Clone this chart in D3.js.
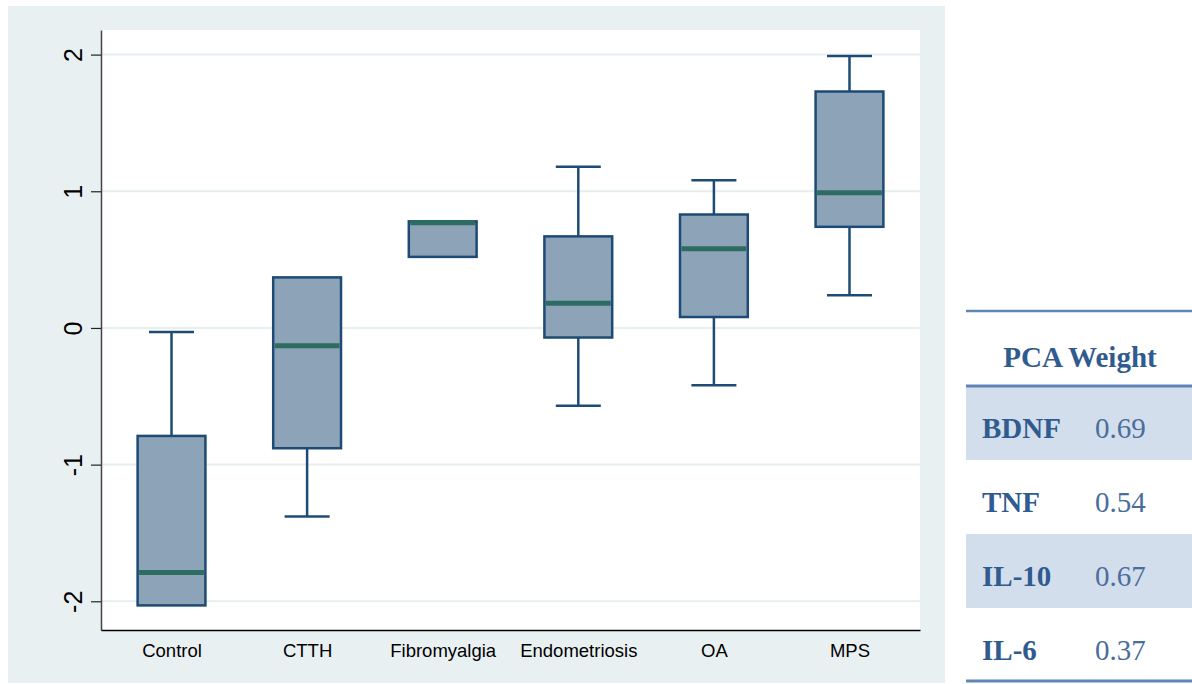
<!DOCTYPE html>
<html>
<head>
<meta charset="utf-8">
<script src="https://cdn.jsdelivr.net/npm/d3@7"></script>
<style>
  html, body { margin: 0; padding: 0; background: #ffffff; }
  svg { display: block; }
</style>
</head>
<body>
<svg id="chart" width="1192" height="684"></svg>
<script>
// Box plot summary per group: whisker low, Q1, median, Q3, whisker high
const categories = ["Control", "CTTH", "Fibromyalgia", "Endometriosis", "OA", "MPS"];
const whiskerLow  = [-2.03, -1.38, 0.52, -0.57, -0.42, 0.24];
const q1          = [-2.03, -0.88, 0.52, -0.07, 0.08, 0.74];
const median      = [-1.79, -0.13, 0.77, 0.18, 0.58, 0.99];
const q3          = [-0.79, 0.37, 0.78, 0.67, 0.83, 1.73];
const whiskerHigh = [-0.03, 0.37, 0.78, 1.18, 1.08, 1.99];
const yTicks = [-2, -1, 0, 1, 2];

// PCA weights table
const markers = ["BDNF", "TNF", "IL-10", "IL-6"];
const weights = ["0.69", "0.54", "0.67", "0.37"];

const svg = d3.select("#chart");

// Outer graph region
svg.append("rect")
  .attr("x", 8).attr("y", 6).attr("width", 937).attr("height", 677)
  .attr("fill", "#e9f0f2");

const plot = { left: 101, right: 920, top: 30, bottom: 630 };

svg.append("rect")
  .attr("x", plot.left).attr("y", plot.top)
  .attr("width", plot.right - plot.left).attr("height", plot.bottom - plot.top)
  .attr("fill", "#ffffff");

const y = d3.scaleLinear().domain([-2.21, 2.18]).range([plot.bottom, plot.top]);
const x = d3.scalePoint().domain(categories).range([plot.left, plot.right]).padding(0.52);
const boxW = x.step() * 0.5;
const capW = 45;

// Horizontal grid lines
svg.append("g").selectAll("line").data(yTicks).join("line")
  .attr("x1", plot.left).attr("x2", plot.right)
  .attr("y1", d => y(d)).attr("y2", d => y(d))
  .attr("stroke", "#e6eef1").attr("stroke-width", 2);

// Y axis (plain hyphen for negative labels)
const yAxis = svg.append("g")
  .attr("transform", `translate(${plot.left},0)`)
  .call(d3.axisLeft(y).tickValues(yTicks).tickSize(10).tickSizeOuter(0).tickFormat(d => String(d)));
yAxis.select(".domain").attr("stroke", "#444").attr("stroke-width", 1.5);
yAxis.selectAll(".tick line").attr("stroke", "#222").attr("stroke-width", 1.2);
yAxis.selectAll(".tick text")
  .attr("x", 0).attr("y", 0).attr("dy", null)
  .attr("text-anchor", "middle")
  .attr("transform", "translate(-19,0) rotate(-90)")
  .attr("font-family", "'Liberation Sans', Arial, sans-serif")
  .attr("font-size", 25)
  .attr("fill", "#000");

// X axis
const xAxis = svg.append("g")
  .attr("transform", `translate(0,${plot.bottom})`)
  .call(d3.axisBottom(x).tickSize(0).tickSizeOuter(0));
xAxis.select(".domain").attr("stroke", "#000").attr("stroke-width", 1.5);
xAxis.selectAll(".tick text")
  .attr("y", 27).attr("dy", null)
  .attr("font-family", "'Liberation Sans', Arial, sans-serif")
  .attr("font-size", 18.5)
  .attr("fill", "#000");

// Boxes
const rows = categories.map((c, i) => ({
  c, lo: whiskerLow[i], q1: q1[i], med: median[i], q3: q3[i], hi: whiskerHigh[i]
}));

const boxColor = "#1d4b75";
const g = svg.append("g").selectAll("g").data(rows).join("g")
  .attr("transform", d => `translate(${x(d.c)},0)`);

// whisker stems and caps (only where the whisker extends past the box)
g.filter(d => d.hi > d.q3).append("line")
  .attr("x1", 0).attr("x2", 0).attr("y1", d => y(d.q3)).attr("y2", d => y(d.hi))
  .attr("stroke", boxColor).attr("stroke-width", 2.5);
g.filter(d => d.hi > d.q3).append("line")
  .attr("x1", -capW / 2).attr("x2", capW / 2).attr("y1", d => y(d.hi)).attr("y2", d => y(d.hi))
  .attr("stroke", boxColor).attr("stroke-width", 2.5);
g.filter(d => d.lo < d.q1).append("line")
  .attr("x1", 0).attr("x2", 0).attr("y1", d => y(d.q1)).attr("y2", d => y(d.lo))
  .attr("stroke", boxColor).attr("stroke-width", 2.5);
g.filter(d => d.lo < d.q1).append("line")
  .attr("x1", -capW / 2).attr("x2", capW / 2).attr("y1", d => y(d.lo)).attr("y2", d => y(d.lo))
  .attr("stroke", boxColor).attr("stroke-width", 2.5);

g.append("rect")
  .attr("x", -boxW / 2).attr("width", boxW)
  .attr("y", d => y(d.q3)).attr("height", d => y(d.q1) - y(d.q3))
  .attr("fill", "#8da3b8").attr("stroke", boxColor).attr("stroke-width", 2.5);

g.append("line")
  .attr("x1", -boxW / 2 + 1.5).attr("x2", boxW / 2 - 1.5)
  .attr("y1", d => y(d.med)).attr("y2", d => y(d.med))
  .attr("stroke", "#2e6b60").attr("stroke-width", 5);

// PCA weight table
const tbl = { left: 966, right: 1192, top: 311, headBottom: 386, rowH: 74 };
const labelColor = "#2f5b8f";
const valueColor = "#4a6d9c";
const serif = "'Liberation Serif', 'Times New Roman', serif";

const tg = svg.append("g");
tg.selectAll("rect.shade").data(markers.filter((d, i) => i % 2 === 0)).join("rect")
  .attr("class", "shade")
  .attr("x", tbl.left).attr("width", tbl.right - tbl.left)
  .attr("y", d => tbl.headBottom + markers.indexOf(d) * tbl.rowH)
  .attr("height", tbl.rowH)
  .attr("fill", "#d3deec");

tg.append("line")
  .attr("x1", tbl.left).attr("x2", tbl.right).attr("y1", tbl.top).attr("y2", tbl.top)
  .attr("stroke", "#5f86b6").attr("stroke-width", 2.5);
tg.append("line")
  .attr("x1", tbl.left).attr("x2", tbl.right).attr("y1", tbl.headBottom).attr("y2", tbl.headBottom)
  .attr("stroke", "#5f86b6").attr("stroke-width", 3);
tg.append("line")
  .attr("x1", tbl.left).attr("x2", tbl.right)
  .attr("y1", tbl.headBottom + markers.length * tbl.rowH - 1)
  .attr("y2", tbl.headBottom + markers.length * tbl.rowH - 1)
  .attr("stroke", "#5f86b6").attr("stroke-width", 3);

tg.append("text")
  .attr("x", 1080).attr("y", 367)
  .attr("text-anchor", "middle")
  .attr("font-family", serif).attr("font-weight", "bold").attr("font-size", 29)
  .attr("fill", labelColor)
  .text("PCA Weight");

tg.selectAll("text.marker").data(markers).join("text")
  .attr("class", "marker")
  .attr("x", 982).attr("y", (d, i) => tbl.headBottom + i * tbl.rowH + 52)
  .attr("font-family", serif).attr("font-weight", "bold").attr("font-size", 29)
  .attr("fill", labelColor)
  .text(d => d);

tg.selectAll("text.weight").data(weights).join("text")
  .attr("class", "weight")
  .attr("x", 1095).attr("y", (d, i) => tbl.headBottom + i * tbl.rowH + 52)
  .attr("font-family", serif).attr("font-size", 29)
  .attr("fill", valueColor)
  .text(d => d);
</script>
</body>
</html>
